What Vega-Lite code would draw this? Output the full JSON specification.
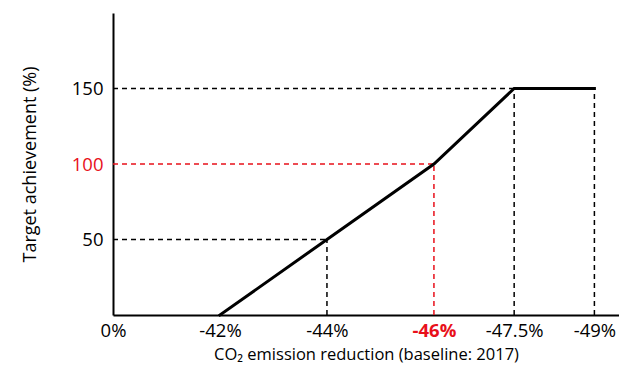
{
  "$schema": "https://vega.github.io/schema/vega-lite/v6.json",
  "width": 506,
  "height": 302,
  "autosize": "none",
  "padding": {"left": 113, "top": 13, "right": 0, "bottom": 52},
  "background": "white",
  "config": {
    "view": {"stroke": null},
    "font": "Open Sans",
    "axis": {"labelFont": "Open Sans", "titleFont": "Open Sans", "grid": false, "ticks": false, "domainColor": "black", "domainWidth": 2, "labelColor": "black", "titleColor": "black", "labelFontSize": 18.5, "titleFontSize": 16, "titleFontWeight": "normal"}
  },
  "datasets": {
    "curve": [
      {"pos": 2, "val": 0},
      {"pos": 4, "val": 50},
      {"pos": 6, "val": 100},
      {"pos": 7.5, "val": 150},
      {"pos": 9, "val": 150}
    ],
    "guides": [
      {"x": 0, "x2": 4, "y": 50, "y2": 50, "c": "black"},
      {"x": 4, "x2": 4, "y": 0, "y2": 50, "c": "black"},
      {"x": 0, "x2": 6, "y": 100, "y2": 100, "c": "#e8101a"},
      {"x": 6, "x2": 6, "y": 0, "y2": 100, "c": "#e8101a"},
      {"x": 0, "x2": 7.5, "y": 150, "y2": 150, "c": "black"},
      {"x": 7.5, "x2": 7.5, "y": 0, "y2": 150, "c": "black"},
      {"x": 9, "x2": 9, "y": 0, "y2": 150, "c": "black"}
    ]
  },
  "layer": [
    {
      "data": {"name": "guides"},
      "mark": {"type": "rule", "strokeDash": [5, 4], "strokeWidth": 1.5},
      "encoding": {
        "x": {"field": "x", "type": "quantitative", "scale": {"domain": [0, 9.46], "nice": false, "zero": false},
          "axis": {"values": [0, 2, 4, 6, 7.5, 9], "labelExpr": "datum.value == 0 ? '0%' : '-' + (datum.value + 40) + '%'", "labelPadding": 6, "labelColor": {"expr": "datum.value == 6 ? '#e8101a' : 'black'"}, "labelFontWeight": {"expr": "datum.value == 6 ? 'bold' : 'normal'"}, "title": "CO₂ emission reduction (baseline: 2017)", "titleFontSize": 16.5, "titlePadding": 7, "labelFlush": false}},
        "x2": {"field": "x2"},
        "y": {"field": "y", "type": "quantitative", "scale": {"domain": [0, 200], "nice": false},
          "axis": {"values": [50, 100, 150], "labelPadding": 10, "labelColor": {"expr": "datum.value == 100 ? '#e8101a' : 'black'"}, "title": "Target achievement (%)", "titleFontSize": 18, "titlePadding": 32}},
        "y2": {"field": "y2"},
        "color": {"field": "c", "type": "nominal", "scale": null}
      }
    },
    {
      "data": {"name": "curve"},
      "mark": {"type": "line", "color": "black", "strokeWidth": 3, "strokeCap": "square"},
      "encoding": {
        "x": {"field": "pos", "type": "quantitative"},
        "y": {"field": "val", "type": "quantitative"}
      }
    }
  ]
}
